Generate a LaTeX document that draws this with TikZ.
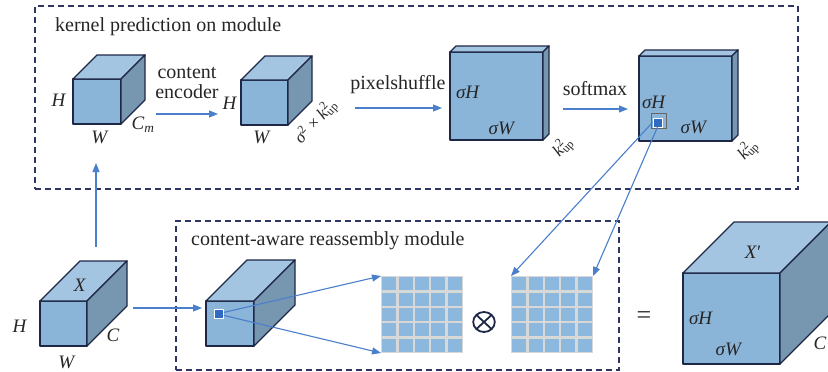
\documentclass[tikz,border=0pt]{standalone}
\usepackage{fontspec}
\setmainfont{Liberation Serif}
\usetikzlibrary{arrows.meta,calc}
\definecolor{frontc}{HTML}{8BB4D9}
\definecolor{topc}{HTML}{A4C5E2}
\definecolor{sidec}{HTML}{7797B1}
\definecolor{edgec}{HTML}{1E2846}
\definecolor{boxc}{HTML}{2F3562}
\definecolor{arrc}{HTML}{4A7FCB}
\definecolor{cellc}{HTML}{8DB8DD}
\definecolor{gapc}{HTML}{D8D8D8}
\definecolor{sqc}{HTML}{2F6BC0}
\definecolor{txtc}{HTML}{262626}
\newcommand\kup{\textit{k}\rlap{\textsuperscript{2}}\textsubscript{up}}
\newcommand\cubefaces[4]{%
  \draw[face,fill=topc] (#1.north west) -- ++(#4,-#4) -- ++(#2,0) -- (#1.north east) -- cycle;
  \draw[face,fill=sidec] (#1.north east) -- ++(#4,-#4) -- ++(0,#3) -- (#1.south east) -- cycle;}
\tikzset{
  face/.style={draw=edgec, line width=1.4pt, line join=round},
  frontbox/.style={face, fill=frontc, anchor=north west, inner sep=0pt, outer sep=0pt},
  dbox/.style={draw=boxc, line width=1.5pt, dash pattern=on 6pt off 4pt, anchor=north west, inner sep=0pt, outer sep=0pt},
  arr/.style={draw=arrc, line width=1.1pt, -{Triangle[length=9pt,width=7pt]}},
  lbl/.style={font=\fontsize{19}{21}\selectfont, text=txtc, inner sep=0pt},
  rlbl/.style={font=\fontsize{17}{19}\selectfont, text=txtc, inner sep=0pt, rotate=48},
  ttl/.style={font=\fontsize{20}{22}\selectfont, text=txtc, inner sep=0pt},
  gridbox/.style={fill=gapc, anchor=north west, inner sep=0pt, outer sep=0pt, minimum width=82pt, minimum height=77pt},
  opsym/.style={draw=edgec, line width=1.8pt, ellipse-free/.style={}, inner sep=0pt, outer sep=0pt},
}
\begin{document}
\begin{tikzpicture}[x=1pt,y=-1pt]
\clip (0,0) rectangle (828,372);
\fill[white] (0,0) rectangle (828,372);
% dashed module boxes
\node[dbox, minimum width=763pt, minimum height=183pt] (topbox) at (35,6) {};
\node[dbox, minimum width=443pt, minimum height=149pt] (botbox) at (176,221) {};
\node[ttl, anchor=west] (t1) at (55,27) {kernel prediction on module};
\node[ttl, anchor=west] (t2) at (191,241) {content-aware reassembly module};
% cube 1
\node[frontbox, minimum width=48pt, minimum height=45pt] (c1) at (73,79) {};
\cubefaces{c1}{48}{45}{24}
\node[lbl] (c1h) at (59,100) {\textit{H}};
\node[lbl] (c1w) at (100,137) {\textit{W}};
\node[lbl] (c1c) at (143,125) {\textit{C}\textsubscript{\textit{m}}};
% cube 2
\node[frontbox, minimum width=47pt, minimum height=45pt] (c2) at (241,80) {};
\cubefaces{c2}{47}{45}{24}
\node[lbl] (c2h) at (230,103) {\textit{H}};
\node[lbl] (c2w) at (262,137) {\textit{W}};
\node[rlbl] (c2c) at (316,122) {\textit{σ}\textsuperscript{2} × \kup};
% cube 3
\node[frontbox, minimum width=93pt, minimum height=88pt] (c3) at (450,52) {};
\cubefaces{c3}{93}{88}{6}
\node[lbl] (c3h) at (468,92) {\textit{σH}};
\node[lbl] (c3w) at (502,128) {\textit{σW}};
\node[rlbl] (c3c) at (563,147) {\kup};
% cube 4
\node[frontbox, minimum width=93pt, minimum height=85pt] (c4) at (639,56) {};
\cubefaces{c4}{93}{85}{6}
\node[lbl] (c4h) at (654,102) {\textit{σH}};
\node[lbl] (c4w) at (694,127) {\textit{σW}};
\node[rlbl] (c4c) at (748,150) {\kup};
\node[draw=gray!80!black, line width=0.8pt, anchor=north west, inner sep=0pt, minimum size=15pt] (sq4o) at (651,113) {};
\node[draw=white, fill=sqc, line width=0.8pt, anchor=north west, inner sep=0pt, minimum size=9pt] (sq4) at (652.5,117.5) {};
% input cube X
\node[frontbox, minimum width=47pt, minimum height=45pt] (cx) at (40,301) {};
\cubefaces{cx}{47}{45}{40}
\node[lbl] (cxx) at (80,285) {\textit{X}};
\node[lbl] (cxh) at (20,326) {\textit{H}};
\node[lbl] (cxw) at (67,362) {\textit{W}};
\node[lbl] (cxc) at (113,335) {\textit{C}};
% cube 5
\node[frontbox, minimum width=48pt, minimum height=45pt] (c5) at (206,301) {};
\cubefaces{c5}{48}{45}{41}
\node[draw=white, fill=sqc, line width=0.8pt, anchor=north west, inner sep=0pt, minimum size=9pt] (sq5) at (214,309) {};
% grids
\node[gridbox] (g1) at (381,276) {};
\node[gridbox] (g2) at (511,276) {};
\foreach \g in {g1,g2}{
  \foreach \i in {0,...,4}{
    \foreach \j in {0,...,4}{
      \fill[cellc] ($(\g.north west)+(\i*16.4+1.2,\j*15.4+1.2)$) rectangle ++(14.0,13.0);
    }
  }
}
% circled times operator
\node[circle, draw=edgec, line width=1.8pt, inner sep=0pt, outer sep=0pt, minimum size=20pt, xscale=1.08] (otimes) at (484,322) {};
\draw[draw=edgec, line width=1.8pt] (otimes.north east) -- (otimes.south west)
  (otimes.north west) -- (otimes.south east);
\node[inner sep=0pt, text=txtc] (eq) at (644,318) {\fontsize{26}{26}\selectfont =};
% output cube X'
\node[frontbox, minimum width=97pt, minimum height=91pt] (co) at (683,273) {};
\cubefaces{co}{97}{91}{51}
\node[lbl] (cox) at (753,252) {\textit{X}′};
\node[lbl] (coh) at (701,318) {\textit{σH}};
\node[lbl] (cow) at (729,349) {\textit{σW}};
\node[lbl] (coc) at (820,343) {\textit{C}};
% connector labels
\node[ttl, align=center] (lenc) at (187,83) {content\\[-2pt]encoder};
\node[ttl] (lpix) at (398,85) {pixelshuffle};
\node[ttl] (lsoft) at (595,89) {softmax};
% connector end points
\coordinate (a1s) at (156,114);
\coordinate (a1e) at (218,114);
\coordinate (a2s) at (355,108);
\coordinate (a2e) at (442,108);
\coordinate (a3s) at (563,109);
\coordinate (a3e) at (628,109);
\coordinate (a4s) at (96,247);
\coordinate (a4e) at (96,163);
\coordinate (a5s) at (133,308);
\coordinate (a5e) at (202,308);
% connectors
\draw[arr] (a1s) -- (a1e);
\draw[arr] (a2s) -- (a2e);
\draw[arr] (a3s) -- (a3e);
\draw[arr] (a4s) -- (a4e);
\draw[arr] (a5s) -- (a5e);
\draw[arr] ([yshift=1.5pt]sq5.east) -- (g1.north west);
\draw[arr] ([yshift=-1.5pt]sq5.east) -- (g1.south west);
\draw[arr] (sq4.west) -- (g2.north west);
\draw[arr] (sq4.south) -- (g2.north east);
\end{tikzpicture}
\end{document}
